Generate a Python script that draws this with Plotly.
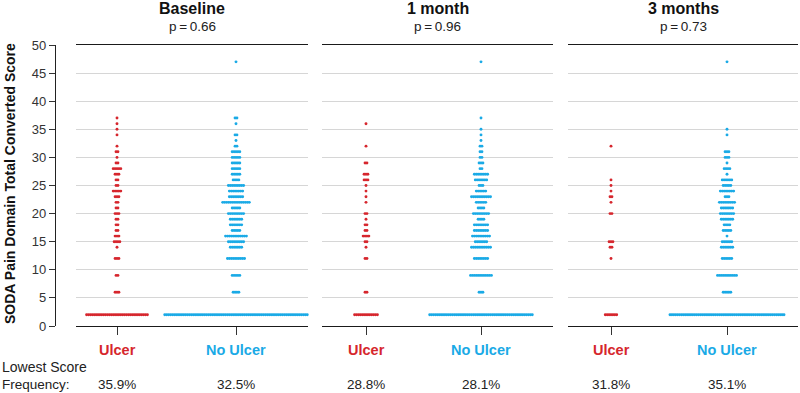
import plotly.graph_objects as go

# ---------------- data ----------------
panels = ["Baseline", "1 month", "3 months"]
p_values = ["p\u2009=\u20090.66", "p\u2009=\u20090.96", "p\u2009=\u20090.73"]
groups = ["Ulcer", "No Ulcer"]
lowest_freq = [["35.9%", "32.5%"], ["28.8%", "28.1%"], ["31.8%", "35.1%"]]
y_ticks = [0, 5, 10, 15, 20, 25, 30, 35, 40, 45, 50]

baseline_ulcer_scores = [37, 36, 35, 34, 32, 31, 30, 29, 28, 27, 26, 25, 24, 23, 22, 21, 20, 19, 18, 17, 16, 15, 14, 12, 9, 6, 2]
baseline_ulcer_counts = [1, 1, 1, 1, 1, 2, 1, 2, 5, 3, 2, 2, 5, 3, 2, 2, 3, 2, 2, 2, 3, 4, 1, 3, 2, 3, 33]

baseline_noulcer_scores = [47, 37, 36, 34, 33, 32, 31, 30, 29, 28, 27, 26, 25, 24, 23, 22, 21, 20, 19, 18, 17, 16, 15, 14, 12, 9, 6, 2]
baseline_noulcer_counts = [1, 2, 1, 2, 1, 2, 5, 5, 5, 5, 5, 4, 9, 8, 8, 15, 5, 9, 7, 7, 5, 12, 9, 7, 10, 5, 4, 76]

month1_ulcer_scores = [36, 32, 29, 27, 26, 25, 24, 23, 22, 20, 19, 18, 17, 16, 15, 14, 12, 6, 2]
month1_ulcer_counts = [1, 1, 2, 3, 3, 1, 1, 1, 1, 2, 1, 2, 2, 4, 2, 1, 2, 2, 13]

month1_noulcer_scores = [47, 37, 35, 34, 33, 32, 31, 30, 29, 28, 27, 26, 25, 24, 23, 22, 21, 20, 19, 18, 17, 16, 15, 14, 12, 9, 6, 2]
month1_noulcer_counts = [1, 1, 1, 1, 1, 2, 2, 2, 3, 2, 8, 7, 3, 6, 11, 6, 4, 9, 4, 8, 8, 10, 7, 11, 8, 12, 3, 55]

month3_ulcer_scores = [32, 26, 25, 24, 23, 22, 20, 15, 14, 12, 2]
month3_ulcer_counts = [1, 1, 1, 1, 2, 1, 2, 3, 2, 1, 7]

month3_noulcer_scores = [47, 35, 34, 31, 30, 29, 28, 27, 26, 25, 24, 23, 22, 21, 20, 19, 18, 17, 16, 15, 14, 12, 9, 6, 2]
month3_noulcer_counts = [1, 1, 1, 3, 3, 1, 4, 1, 6, 5, 8, 3, 9, 7, 8, 7, 4, 5, 1, 6, 7, 6, 11, 5, 61]

series = [
    [(baseline_ulcer_scores, baseline_ulcer_counts), (baseline_noulcer_scores, baseline_noulcer_counts)],
    [(month1_ulcer_scores, month1_ulcer_counts), (month1_noulcer_scores, month1_noulcer_counts)],
    [(month3_ulcer_scores, month3_ulcer_counts), (month3_noulcer_scores, month3_noulcer_counts)],
]

# ---------------- layout constants ----------------
W, H = 800, 393
TOP, BOTTOM = 45, 326
PH = BOTTOM - TOP
panel_px = [(76, 308), (322, 553), (568, 798)]
center_px = [(117, 236), (366, 481), (611, 727)]
DOT_SP = 1.9
RED = "#d6262d"
BLUE = "#1aaae6"
colors = [RED, BLUE]
FONT = "Liberation Sans, Arial, Helvetica, sans-serif"

fig = go.Figure()
layout = dict(
    width=W, height=H,
    margin=dict(l=0, r=0, t=TOP, b=H - BOTTOM, pad=0),
    paper_bgcolor="white", plot_bgcolor="white",
    showlegend=False,
    font=dict(family=FONT, color="#222"),
    yaxis=dict(
        range=[0, 50], tickvals=y_ticks, anchor="free", position=55 / W,
        showgrid=True, gridcolor="#d6d6d6", gridwidth=1, zeroline=False,
        showline=True, linecolor="#222", linewidth=1.2,
        ticks="outside", ticklen=6, tickcolor="#333", tickwidth=1.2,
        tickfont=dict(size=13, color="#333", family=FONT),
    ),
)

annotations = []
for i, (pname, pval) in enumerate(zip(panels, p_values)):
    left, right = panel_px[i]
    cx = [c - left for c in center_px[i]]
    xname = "x" if i == 0 else f"x{i+1}"
    axkey = "xaxis" if i == 0 else f"xaxis{i+1}"
    layout[axkey] = dict(
        domain=[left / W, right / W], range=[0, right - left], anchor="y",
        showgrid=False, zeroline=False, showticklabels=False,
        showline=True, mirror=True, linecolor="#1a1a1a", linewidth=1.3,
        ticks="outside", ticklen=8, tickcolor="#333", tickwidth=1.3,
        tickvals=cx,
    )
    for g in range(2):
        scores, counts = series[i][g]
        xs, ys = [], []
        for s, n in zip(scores, counts):
            for k in range(n):
                xs.append(cx[g] + (k - (n - 1) / 2) * DOT_SP)
                ys.append(s)
        fig.add_trace(go.Scatter(
            x=xs, y=ys, mode="markers", xaxis=xname, yaxis="y",
            marker=dict(size=2.9, color=colors[g], line=dict(width=0)),
            cliponaxis=False, hoverinfo="y",
        ))
        annotations.append(dict(
            x=cx[g], xref=xname, y=(BOTTOM - 350) / PH, yref="paper",
            text=f"<b>{groups[g]}</b>", showarrow=False,
            font=dict(size=14.5, color=colors[g], family=FONT),
            xanchor="center", yanchor="middle",
        ))
        annotations.append(dict(
            x=cx[g], xref=xname, y=(BOTTOM - 384) / PH, yref="paper",
            text=lowest_freq[i][g], showarrow=False,
            font=dict(size=13.5, color="#222", family=FONT),
            xanchor="center", yanchor="middle",
        ))
    pc = (left + right) / 2 / W
    annotations.append(dict(
        x=pc, xref="paper", y=(BOTTOM - 9) / PH, yref="paper",
        text=f"<b>{pname}</b>", showarrow=False,
        font=dict(size=16, color="#111", family=FONT),
        xanchor="center", yanchor="middle",
    ))
    annotations.append(dict(
        x=pc, xref="paper", y=(BOTTOM - 27) / PH, yref="paper",
        text=pval, showarrow=False,
        font=dict(size=13.5, color="#222", family=FONT),
        xanchor="center", yanchor="middle",
    ))

annotations.append(dict(
    x=0, xref="paper", y=(BOTTOM - 367) / PH, yref="paper",
    text="Lowest Score", showarrow=False,
    font=dict(size=14, color="#222", family=FONT),
    xanchor="left", yanchor="middle",
))
annotations.append(dict(
    x=0, xref="paper", y=(BOTTOM - 384) / PH, yref="paper",
    text="Frequency:", showarrow=False,
    font=dict(size=13.5, color="#222", family=FONT),
    xanchor="left", yanchor="middle",
))
annotations.append(dict(
    x=10 / W, xref="paper", y=(BOTTOM - 184) / PH, yref="paper",
    text="<b>SODA Pain Domain Total Converted Score</b>", showarrow=False,
    textangle=-90,
    font=dict(size=14, color="#111", family=FONT),
    xanchor="center", yanchor="middle",
))

layout["annotations"] = annotations
fig.update_layout(**layout)
fig.write_html(
    "out.html",
    config={"displayModeBar": False},
    post_script="document.body.style.margin='0';document.body.style.overflow='hidden';",
)
